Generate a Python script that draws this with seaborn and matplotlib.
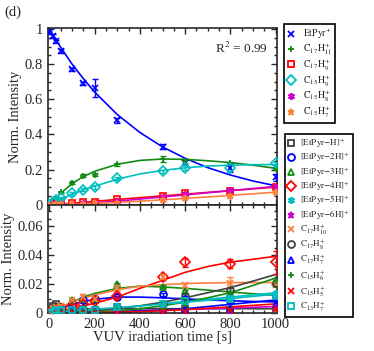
import matplotlib
matplotlib.use('Agg')
import matplotlib.pyplot as plt
import seaborn as sns
from matplotlib.lines import Line2D
from matplotlib.ticker import MultipleLocator

# measurement times [s] and grid of the fit curves
t = [0, 15, 30, 50, 100, 150, 200, 300, 500, 600, 800, 1000]
tf = [0, 50, 100, 150, 200, 300, 400, 500, 600, 700, 800, 900, 1000]

# ---- top panel ----
etpyr = [0.98, 0.96, 0.93, 0.875, 0.77, 0.69, 0.665, 0.48, 0.33, 0.24, 0.21, 0.155]
etpyr_err = [0.01, 0.01, 0.01, 0.01, 0.01, 0.01, 0.05, 0.015, 0.015, 0.015, 0.025, 0.02]
etpyr_fit = [1.0, 0.895, 0.80, 0.717, 0.641, 0.513, 0.411, 0.329, 0.264, 0.211, 0.169, 0.135, 0.108]

c17h11 = [0.0, 0.02, 0.035, 0.07, 0.125, 0.165, 0.17, 0.23, 0.26, 0.25, 0.235, 0.205]
c17h11_err = [0.005, 0.005, 0.005, 0.005, 0.008, 0.008, 0.008, 0.008, 0.015, 0.01, 0.01, 0.01]
c17h11_fit = [0.0, 0.065, 0.12, 0.16, 0.19, 0.23, 0.252, 0.26, 0.258, 0.25, 0.24, 0.225, 0.207]

c17h9 = [0.0, 0.002, 0.004, 0.006, 0.01, 0.015, 0.015, 0.03, 0.05, 0.065, 0.08, 0.1]
c17h9_err = [0.003, 0.003, 0.003, 0.003, 0.005, 0.005, 0.005, 0.008, 0.008, 0.008, 0.008, 0.008]
c17h9_fit = [0.0, 0.004, 0.009, 0.014, 0.019, 0.03, 0.04, 0.05, 0.06, 0.07, 0.08, 0.09, 0.1]

c15h9 = [0.0, 0.015, 0.025, 0.04, 0.065, 0.085, 0.1, 0.15, 0.19, 0.21, 0.21, 0.235]
c15h9_err = [0.005, 0.005, 0.005, 0.005, 0.008, 0.008, 0.01, 0.01, 0.01, 0.015, 0.02, 0.01]
c15h9_fit = [0.0, 0.03, 0.06, 0.085, 0.105, 0.145, 0.175, 0.195, 0.21, 0.22, 0.225, 0.228, 0.228]

c15h8 = [0.0, 0.002, 0.003, 0.004, 0.006, 0.008, 0.01, 0.02, 0.045, 0.06, 0.085, 0.1]
c15h8_err = [0.003, 0.003, 0.003, 0.003, 0.003, 0.003, 0.003, 0.005, 0.005, 0.005, 0.008, 0.008]
c15h8_fit = [0.0, 0.002, 0.004, 0.007, 0.01, 0.02, 0.032, 0.044, 0.056, 0.068, 0.08, 0.092, 0.104]

c15h7 = [0.0, 0.001, 0.002, 0.003, 0.004, 0.006, 0.007, 0.01, 0.025, 0.04, 0.05, 0.07]
c15h7_err = [0.003, 0.003, 0.003, 0.003, 0.003, 0.003, 0.003, 0.005, 0.005, 0.005, 0.008, 0.008]
c15h7_fit = [0.0, 0.001, 0.003, 0.005, 0.007, 0.013, 0.02, 0.028, 0.036, 0.044, 0.053, 0.062, 0.071]

# ---- bottom panel ----
m1h = [0.0005, 0.005, 0.006, 0.002, 0.002, 0.002, 0.002, 0.004, 0.003, 0.003, 0.002, 0.002]
m1h_fit = [0.0, 0.002, 0.0025, 0.003, 0.003, 0.003, 0.003, 0.003, 0.003, 0.003, 0.003, 0.003, 0.003]

m2h = [0.0, 0.001, 0.002, 0.003, 0.006, 0.009, 0.01, 0.011, 0.013, 0.01, 0.008, 0.012]
m2h_fit = [0.0, 0.003, 0.006, 0.008, 0.0095, 0.011, 0.011, 0.0105, 0.0098, 0.009, 0.0085, 0.008, 0.0077]

m3h = [0.0, 0.003, 0.004, 0.005, 0.009, 0.01, 0.01, 0.02, 0.018, 0.015, 0.013, 0.02]
m3h_fit = [0.0, 0.004, 0.0075, 0.011, 0.0135, 0.017, 0.0185, 0.018, 0.017, 0.0158, 0.0145, 0.0133, 0.0122]

m4h = [0.0, 0.001, 0.002, 0.003, 0.005, 0.006, 0.008, 0.012, 0.025, 0.035, 0.034, 0.035]
m4h_err = [0.001, 0.001, 0.001, 0.001, 0.001, 0.001, 0.001, 0.002, 0.002, 0.003, 0.003, 0.008]
m4h_fit = [0.0, 0.001, 0.003, 0.005, 0.0068, 0.011, 0.017, 0.0225, 0.028, 0.032, 0.035, 0.037, 0.039]

m5h = [0.0, 0.001, 0.001, 0.002, 0.002, 0.003, 0.003, 0.004, 0.006, 0.009, 0.011, 0.014]
m5h_fit = [0.0, 0.0008, 0.0015, 0.002, 0.0025, 0.0035, 0.005, 0.0065, 0.008, 0.0095, 0.011, 0.0125, 0.014]

m6h = [0.0, 0.0, 0.0, 0.001, 0.001, 0.001, 0.001, 0.001, 0.0005, 0.001, 0.0005, 0.004]
m6h_fit = [0.0, 0.0003, 0.0005, 0.0007, 0.0009, 0.0012, 0.0016, 0.002, 0.0025, 0.003, 0.0035, 0.004, 0.0045]

c17h10 = [0.0, 0.003, 0.004, 0.005, 0.009, 0.011, 0.01, 0.017, 0.025, 0.019, 0.021, 0.02]
c17h10_err = [0.001, 0.001, 0.001, 0.001, 0.001, 0.002, 0.002, 0.002, 0.002, 0.002, 0.004, 0.002]
c17h10_fit = [0.0, 0.004, 0.0075, 0.01, 0.0125, 0.016, 0.0185, 0.0195, 0.0203, 0.0207, 0.021, 0.021, 0.021]

c17h8 = [0.0, 0.001, 0.001, 0.002, 0.002, 0.003, 0.003, 0.004, 0.006, 0.012, 0.016, 0.021]
c17h8_fit = [0.0, 0.0002, 0.0005, 0.001, 0.0015, 0.003, 0.005, 0.0075, 0.0105, 0.014, 0.0175, 0.022, 0.0265]

c17h7 = [0.0, 0.0, 0.0, 0.001, 0.001, 0.001, 0.001, 0.001, 0.001, 0.002, 0.003, 0.006]
c17h7_fit = [0.0, 0.0, 0.0002, 0.0004, 0.0006, 0.001, 0.0015, 0.002, 0.003, 0.0045, 0.006, 0.0075, 0.009]

c15h6 = [0.0, 0.0, 0.001, 0.001, 0.001, 0.001, 0.001, 0.002, 0.003, 0.006, 0.014, 0.022]
c15h6_fit = [0.0, 0.0, 0.0002, 0.0004, 0.0006, 0.0015, 0.003, 0.005, 0.0075, 0.0105, 0.014, 0.019, 0.024]

c15h5 = [0.0, 0.0, 0.0, 0.0, 0.0, 0.0, 0.0, 0.0005, 0.001, 0.001, 0.002, 0.003]
c15h5_fit = [0.0, 0.0, 0.0001, 0.0002, 0.0003, 0.0006, 0.001, 0.0016, 0.0024, 0.0033, 0.0043, 0.0053, 0.0063]

c13h7 = [0.0, 0.001, 0.002, 0.002, 0.002, 0.002, 0.002, 0.004, 0.006, 0.008, 0.01, 0.012]
c13h7_fit = [0.0, 0.001, 0.0017, 0.0022, 0.0027, 0.0037, 0.0049, 0.0062, 0.0075, 0.0088, 0.01, 0.0115, 0.013]

BLUE, GREEN, RED, CYAN = '#0000ff', '#138a13', '#ff0000', '#00bfbf'
MAG, ORANGE, GREY = '#d000d0', '#ff7f3f', '#404040'
AST = (6, 2, 0)

top_series = [
    (r'$\mathrm{EtPyr^{+}}$', etpyr, etpyr_err, etpyr_fit, BLUE, 'x', True),
    (r'$\mathrm{C_{17}H_{11}^{+}}$', c17h11, c17h11_err, c17h11_fit, GREEN, '+', True),
    (r'$\mathrm{C_{17}H_{9}^{+}}$', c17h9, c17h9_err, c17h9_fit, RED, 's', False),
    (r'$\mathrm{C_{15}H_{9}^{+}}$', c15h9, c15h9_err, c15h9_fit, CYAN, 'D', False),
    (r'$\mathrm{C_{15}H_{8}^{+}}$', c15h8, c15h8_err, c15h8_fit, MAG, AST, True),
    (r'$\mathrm{C_{15}H_{7}^{+}}$', c15h7, c15h7_err, c15h7_fit, ORANGE, '*', False),
]
e1 = 0.001
bot_series = [
    (r'$\mathrm{[EtPyr{-}H]^{+}}$', m1h, e1, m1h_fit, GREY, 's', False),
    (r'$\mathrm{[EtPyr{-}2H]^{+}}$', m2h, e1, m2h_fit, BLUE, 'o', False),
    (r'$\mathrm{[EtPyr{-}3H]^{+}}$', m3h, e1, m3h_fit, GREEN, '^', False),
    (r'$\mathrm{[EtPyr{-}4H]^{+}}$', m4h, m4h_err, m4h_fit, RED, 'D', False),
    (r'$\mathrm{[EtPyr{-}5H]^{+}}$', m5h, e1, m5h_fit, CYAN, AST, True),
    (r'$\mathrm{[EtPyr{-}6H]^{+}}$', m6h, e1, m6h_fit, MAG, '*', False),
    (r'$\mathrm{C_{17}H_{10}^{+}}$', c17h10, c17h10_err, c17h10_fit, ORANGE, 'x', True),
    (r'$\mathrm{C_{17}H_{8}^{+}}$', c17h8, e1, c17h8_fit, GREY, 'o', False),
    (r'$\mathrm{C_{17}H_{7}^{+}}$', c17h7, e1, c17h7_fit, BLUE, '^', False),
    (r'$\mathrm{C_{15}H_{6}^{+}}$', c15h6, e1, c15h6_fit, GREEN, '+', True),
    (r'$\mathrm{C_{15}H_{5}^{+}}$', c15h5, e1, c15h5_fit, RED, 'x', True),
    (r'$\mathrm{C_{13}H_{7}^{+}}$', c13h7, e1, c13h7_fit, CYAN, 's', False),
]

sns.set_style('ticks')
plt.rcParams['font.family'] = ['Liberation Serif', 'DejaVu Serif']
plt.rcParams['mathtext.fontset'] = 'stix'
plt.rcParams['axes.linewidth'] = 1.2

fig, (ax1, ax2) = plt.subplots(2, 1, figsize=(3.74, 3.51), dpi=100, sharex=True,
                               gridspec_kw={'height_ratios': [176, 108], 'hspace': 0})
fig.subplots_adjust(left=0.128, right=0.741, top=0.920, bottom=0.108)


def draw(ax, series):
    handles = []
    for label, y, err, fit, col, mk, filled in series:
        mfc = col if filled else 'none'
        sns.lineplot(x=tf, y=fit, ax=ax, color=col, lw=1.2, zorder=2)
        ax.errorbar(t, y, yerr=err, fmt='none', ecolor=col, elinewidth=1, capsize=2, zorder=3)
        ax.plot(t, y, ls='none', marker=mk, color=col, mfc=mfc, ms=5, mew=1.2, zorder=4)
        handles.append(Line2D([], [], ls='none', marker=mk, color=col, mfc=mfc,
                              ms=5, mew=1.3, label=label))
    return handles


h1 = draw(ax1, top_series)
h2 = draw(ax2, bot_series)

ax1.set_xlim(-7, 1007)
ax1.set_ylim(0, 1.005)
ax2.set_ylim(0, 0.0745)
ax1.set_yticks([0, 0.2, 0.4, 0.6, 0.8, 1.0])
ax1.set_yticklabels(['0', '0.2', '0.4', '0.6', '0.8', '1'])
ax1.yaxis.set_minor_locator(MultipleLocator(0.05))
ax2.set_yticks([0, 0.02, 0.04, 0.06])
ax2.set_yticklabels(['0', '0.02', '0.04', '0.06'])
ax2.yaxis.set_minor_locator(MultipleLocator(0.005))
ax2.set_xticks([0, 200, 400, 600, 800, 1000])
ax2.xaxis.set_minor_locator(MultipleLocator(50))

for ax in (ax1, ax2):
    ax.tick_params(which='both', direction='in', top=True, right=True, labelsize=10.5, width=1)
    ax.tick_params(which='major', length=4)
    ax.tick_params(which='minor', length=2)
    ax.set_ylabel('Norm. Intensity', fontsize=10.5, labelpad=2)
ax1.tick_params(labelbottom=False)
ax2.set_xlabel('VUV iradiation time [s]', fontsize=10.5, labelpad=0)

ax1.text(0.96, 0.93, r'R$^2$ = 0.99', transform=ax1.transAxes, ha='right', va='top', fontsize=9.5)
fig.text(0.013, 0.965, '(d)', fontsize=10.5, va='center')

leg_kw = dict(frameon=True, fancybox=False, edgecolor='black', loc='upper left',
              handlelength=0.8, borderpad=0.3, borderaxespad=0)
l1 = fig.legend(handles=h1, bbox_to_anchor=(0.759, 0.932), fontsize=7,
                labelspacing=0.05, handletextpad=0.9, **leg_kw)
l2 = fig.legend(handles=h2, bbox_to_anchor=(0.762, 0.618), fontsize=6.5,
                labelspacing=0.1, handletextpad=0.6, **leg_kw)
for lg in (l1, l2):
    lg.get_frame().set_linewidth(1.2)
    lg.get_frame().set_alpha(None)

fig.savefig('out.png', dpi=100)
